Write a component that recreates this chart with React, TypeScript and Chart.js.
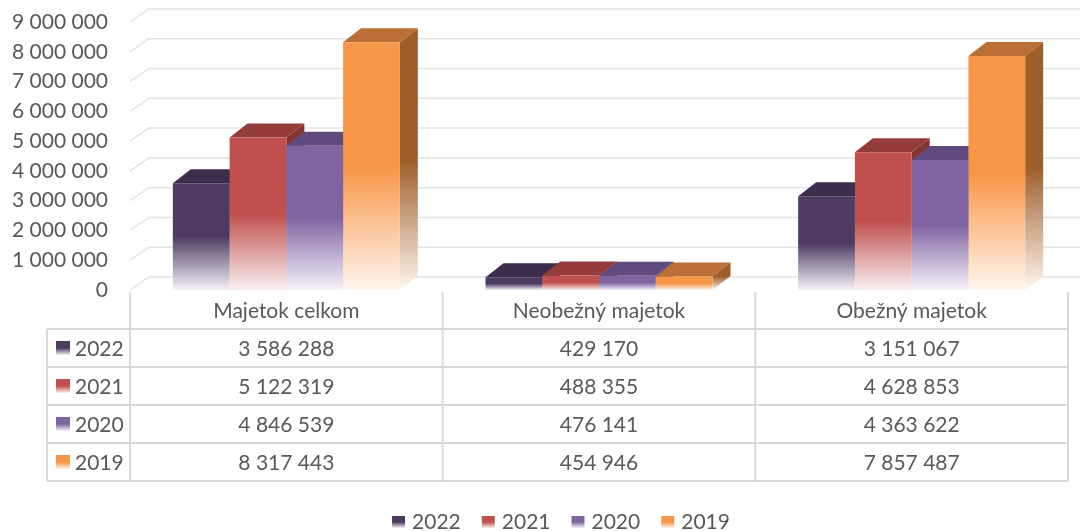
import React, { useEffect, useRef } from "react";
import { Chart, registerables } from "chart.js";

Chart.register(...registerables);

const categories = ["Majetok celkom", "Neobežný majetok", "Obežný majetok"];
const years = ["2022", "2021", "2020", "2019"];
const values2022 = [3586288, 429170, 3151067];
const values2021 = [5122319, 488355, 4628853];
const values2020 = [4846539, 476141, 4363622];
const values2019 = [8317443, 454946, 7857487];
const seriesValues = [values2022, values2021, values2020, values2019];

const frontColors = ["#4d3b62", "#c0504d", "#8064a2", "#f79646"];
const topColors = ["#3c2d4d", "#943c3a", "#614a7e", "#b96f35"];
const sideColors = ["#35283f", "#85352f", "#574370", "#9c5e2b"];
const lightColors = ["#f4f2f7", "#fbf1f1", "#f6f3fa", "#fff6ee"];

const FONT = 'Lato, "Liberation Sans", sans-serif';
const TEXT = "#595959";
const DX = 18;
const DY = -14;
const WX = 19;
const WY = -13;

const fmt = (v: number) => String(v).replace(/\B(?=(\d{3})+(?!\d))/g, " ");

function makeGrad(ctx: CanvasRenderingContext2D, yTop: number, base: number, c: string, light: string) {
  const g = ctx.createLinearGradient(0, yTop, 0, base);
  g.addColorStop(0, c);
  g.addColorStop(0.5, c);
  g.addColorStop(1, light);
  return g;
}

const threeD = {
  id: "threeD",
  beforeDatasetsDraw(chart: any) {
    const ctx = chart.ctx as CanvasRenderingContext2D;
    const { left, right } = chart.chartArea;
    const ys = chart.scales.y;
    ctx.save();
    ctx.strokeStyle = "#e4e4e4";
    ctx.lineWidth = 1.5;
    for (const t of ys.ticks) {
      const yf = ys.getPixelForValue(t.value);
      ctx.beginPath();
      ctx.moveTo(left, yf);
      ctx.lineTo(left + WX, yf + WY);
      ctx.lineTo(right + WX, yf + WY);
      ctx.stroke();
    }
    for (let i = 0; i < categories.length; i++) {
      for (let d = 0; d < years.length; d++) {
        const el = chart.getDatasetMeta(d).data[i];
        const { x, y, base, width } = el.getProps(["x", "y", "base", "width"], true);
        const x0 = x - width / 2;
        const x1 = x + width / 2;
        ctx.beginPath();
        ctx.moveTo(x1, y);
        ctx.lineTo(x1 + DX, y + DY);
        ctx.lineTo(x1 + DX, base + DY);
        ctx.lineTo(x1, base);
        ctx.closePath();
        ctx.fillStyle = makeGrad(ctx, y + DY, base, sideColors[d], lightColors[d]);
        ctx.fill();
        ctx.beginPath();
        ctx.moveTo(x0, y);
        ctx.lineTo(x0 + DX, y + DY);
        ctx.lineTo(x1 + DX, y + DY);
        ctx.lineTo(x1, y);
        ctx.closePath();
        ctx.fillStyle = topColors[d];
        ctx.fill();
      }
    }
    ctx.restore();
  },
  afterDraw(chart: any) {
    const ctx = chart.ctx as CanvasRenderingContext2D;
    const { left, right, bottom } = chart.chartArea;
    const xs = chart.scales.x;
    const colW = (right - left) / categories.length;
    const headTop = bottom + 2;
    const rowTop = 329;
    const rowH = 38;
    const tableLeft = 47;
    ctx.save();
    ctx.strokeStyle = "#d9d9d9";
    ctx.lineWidth = 2;
    for (let r = 0; r <= years.length; r++) {
      const yy = rowTop + r * rowH;
      ctx.beginPath();
      ctx.moveTo(tableLeft, yy);
      ctx.lineTo(right, yy);
      ctx.stroke();
    }
    ctx.beginPath();
    ctx.moveTo(tableLeft, rowTop);
    ctx.lineTo(tableLeft, rowTop + years.length * rowH);
    ctx.stroke();
    for (let c = 0; c <= categories.length; c++) {
      const xx = left + c * colW;
      ctx.beginPath();
      ctx.moveTo(xx, headTop);
      ctx.lineTo(xx, rowTop + years.length * rowH);
      ctx.stroke();
    }
    ctx.fillStyle = TEXT;
    ctx.font = `21px ${FONT}`;
    ctx.textAlign = "center";
    ctx.textBaseline = "middle";
    categories.forEach((cat, i) => {
      ctx.fillText(cat, xs.getPixelForValue(i), (headTop + rowTop) / 2 + 1);
    });
    years.forEach((yr, d) => {
      const cy = rowTop + d * rowH + rowH / 2 + 1;
      seriesValues[d].forEach((v, i) => {
        ctx.textAlign = "center";
        ctx.fillStyle = TEXT;
        ctx.fillText(fmt(v), xs.getPixelForValue(i), cy);
      });
      ctx.fillStyle = makeGrad(ctx, cy - 8, cy + 6, frontColors[d], lightColors[d]);
      ctx.fillRect(56, cy - 8, 14, 14);
      ctx.fillStyle = TEXT;
      ctx.textAlign = "left";
      ctx.fillText(yr, 75, cy);
    });
    const sw = 13;
    const gap = 7;
    const itemGap = 21;
    const widths = years.map((y) => ctx.measureText(y).width);
    const total = widths.reduce((a, w) => a + sw + gap + w, 0) + itemGap * (years.length - 1);
    let lx = 561 - total / 2;
    const ly = 522;
    years.forEach((yr, d) => {
      ctx.fillStyle = makeGrad(ctx, ly - 6, ly + 6, frontColors[d], lightColors[d]);
      ctx.fillRect(lx, ly - 6, sw, 12);
      ctx.fillStyle = TEXT;
      ctx.textAlign = "left";
      ctx.fillText(yr, lx + sw + gap, ly);
      lx += sw + gap + widths[d] + itemGap;
    });
    ctx.restore();
  },
};

export default function App() {
  const ref = useRef<HTMLCanvasElement>(null);
  useEffect(() => {
    document.body.style.margin = "0";
    const canvas = ref.current!;
    const chart = new Chart(canvas, {
      type: "bar",
      data: {
        labels: categories,
        datasets: years.map((yr, d) => ({
          label: yr,
          data: seriesValues[d],
          borderWidth: 0,
          backgroundColor: (c: any) => {
            const ch = c.chart;
            if (!ch.chartArea || c.raw == null) return frontColors[d];
            const ys = ch.scales.y;
            const yt = ys.getPixelForValue(c.raw);
            const base = ys.getPixelForValue(0);
            return makeGrad(ch.ctx, yt, base, frontColors[d], lightColors[d]);
          },
          categoryPercentage: 0.726,
          barPercentage: 1,
        })),
      },
      options: {
        animation: false,
        responsive: false,
        devicePixelRatio: 1,
        layout: { padding: { top: 22, bottom: 241, left: 0, right: 12 } },
        plugins: { legend: { display: false }, tooltip: { enabled: false } },
        scales: {
          x: { display: false },
          y: {
            min: 0,
            max: 9000000,
            afterFit: (s: any) => {
              s.width = 130;
            },
            grid: { display: false, drawTicks: true, tickLength: 22 },
            border: { display: false },
            ticks: {
              stepSize: 1000000,
              padding: 0,
              color: TEXT,
              font: { family: FONT, size: 21 },
              callback: (v: any) => fmt(Number(v)),
            },
          },
        },
      },
      plugins: [threeD],
    });
    return () => chart.destroy();
  }, []);
  return (
    <div style={{ width: 1080, height: 531 }}>
      <canvas ref={ref} width={1080} height={531} />
    </div>
  );
}
